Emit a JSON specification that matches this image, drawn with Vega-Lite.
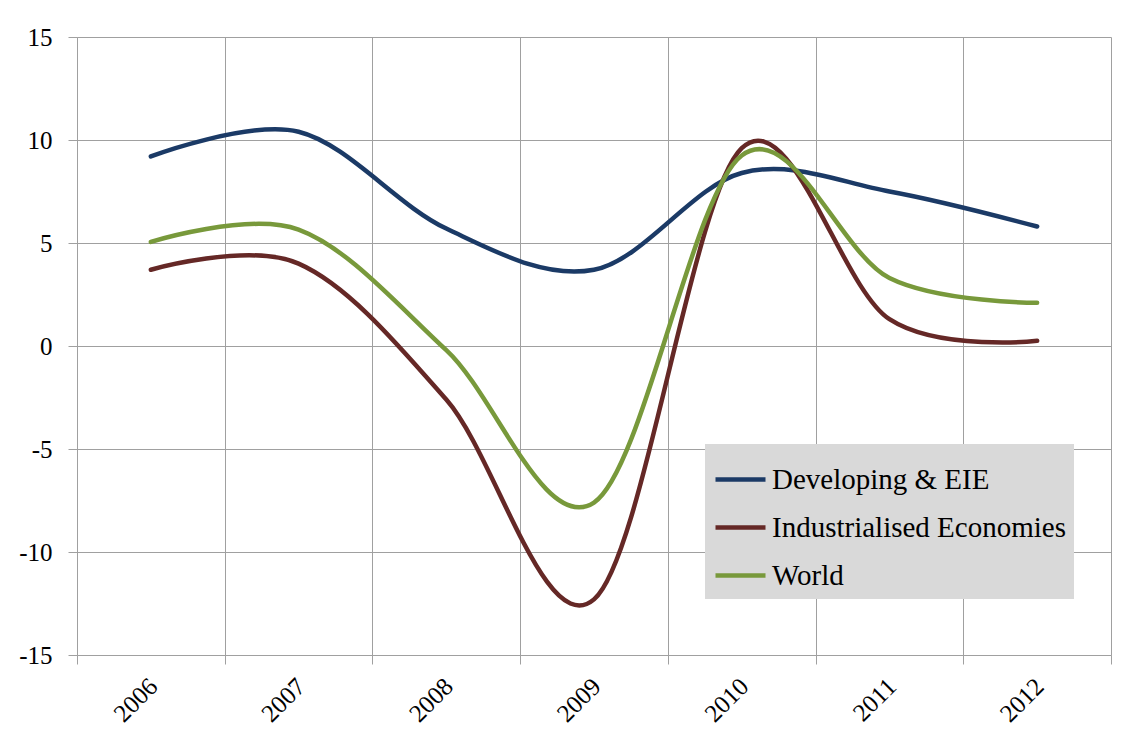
{
  "$schema": "https://vega.github.io/schema/vega-lite/v6.json",
  "autosize": {"type": "none"},
  "padding": {"left": 77, "top": 37, "right": 20, "bottom": 88},
  "width": 1034,
  "height": 618,
  "background": "white",
  "config": {
    "font": "Liberation Serif",
    "view": {"stroke": null},
    "axis": {
      "labelFont": "Liberation Serif",
      "labelColor": "black",
      "labelFontSize": 25,
      "gridColor": "#a0a0a0",
      "gridWidth": 1,
      "gridOpacity": 1,
      "domainColor": "#a0a0a0",
      "domainWidth": 1,
      "tickColor": "#a0a0a0",
      "tickWidth": 1,
      "tickSize": 9,
      "title": null
    }
  },
  "data": {
    "values": [
      {"year": 2006, "series": "Developing & EIE", "value": 9.2},
      {"year": 2007, "series": "Developing & EIE", "value": 10.4},
      {"year": 2008, "series": "Developing & EIE", "value": 5.7},
      {"year": 2009, "series": "Developing & EIE", "value": 3.7},
      {"year": 2010, "series": "Developing & EIE", "value": 8.4},
      {"year": 2011, "series": "Developing & EIE", "value": 7.5},
      {"year": 2012, "series": "Developing & EIE", "value": 5.8},
      {"year": 2006, "series": "Industrialised Economies", "value": 3.7},
      {"year": 2007, "series": "Industrialised Economies", "value": 4.0},
      {"year": 2008, "series": "Industrialised Economies", "value": -2.6},
      {"year": 2009, "series": "Industrialised Economies", "value": -12.3},
      {"year": 2010, "series": "Industrialised Economies", "value": 9.6},
      {"year": 2011, "series": "Industrialised Economies", "value": 1.3},
      {"year": 2012, "series": "Industrialised Economies", "value": 0.25},
      {"year": 2006, "series": "World", "value": 5.05},
      {"year": 2007, "series": "World", "value": 5.65},
      {"year": 2008, "series": "World", "value": -0.2},
      {"year": 2009, "series": "World", "value": -7.6},
      {"year": 2010, "series": "World", "value": 9.25},
      {"year": 2011, "series": "World", "value": 3.3},
      {"year": 2012, "series": "World", "value": 2.1}
    ]
  },
  "mark": {"type": "line", "interpolate": "cardinal", "strokeWidth": 4.5, "strokeCap": "round", "clip": false},
  "encoding": {
    "x": {
      "field": "year",
      "type": "quantitative",
      "scale": {"domain": [2005.5, 2012.5], "nice": false, "zero": false},
      "axis": {
        "values": [2005.5, 2006.5, 2007.5, 2008.5, 2009.5, 2010.5, 2011.5, 2012.5],
        "grid": true,
        "labelExpr": "datum.value < 2012 ? toString(datum.value + 0.5) : ''",
        "labelAngle": -45,
        "labelAlign": "right",
        "labelBaseline": "middle",
        "labelOffset": 76,
        "labelPadding": 18,
        "labelFlush": false,
        "labelOverlap": false
      }
    },
    "y": {
      "field": "value",
      "type": "quantitative",
      "scale": {"domain": [-15, 15], "nice": false, "zero": false},
      "axis": {
        "values": [-15, -10, -5, 0, 5, 10, 15],
        "grid": true,
        "labelExpr": "toString(datum.value)",
        "labelPadding": 16
      }
    },
    "color": {
      "field": "series",
      "type": "nominal",
      "scale": {
        "domain": ["Developing & EIE", "Industrialised Economies", "World"],
        "range": ["#1b3a66", "#652826", "#78993b"]
      },
      "legend": {
        "title": null,
        "orient": "none",
        "legendX": 628,
        "legendY": 407,
        "fillColor": "#d9d9d9",
        "padding": 8,
        "symbolType": "stroke",
        "symbolSize": 2500,
        "symbolStrokeWidth": 4.5,
        "labelFont": "Liberation Serif",
        "labelFontSize": 29,
        "labelColor": "black",
        "labelOffset": 4,
        "labelLimit": 400,
        "rowPadding": 5
      }
    }
  }
}
